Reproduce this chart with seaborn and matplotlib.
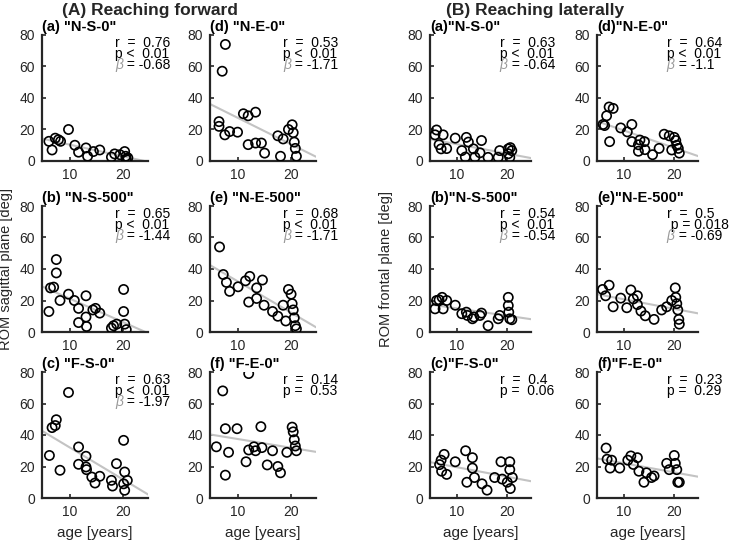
import numpy as np
import pandas as pd
import matplotlib
matplotlib.use('Agg')
import matplotlib.pyplot as plt
import seaborn as sns

# ---- data: age [years] vs ROM [deg] ----
# (A) reaching forward, sagittal plane
age_fwd_a = [6.0, 6.6, 7.2, 7.8, 8.2, 9.7, 10.9, 11.6, 13.0, 13.3, 14.4, 15.6, 17.8, 18.4, 19.4, 20.3, 20.5, 20.6, 20.9]
rom_fwd_a = [12.5, 7, 14.5, 13.5, 12.5, 20, 10, 5.6, 8.3, 3, 6, 7, 2.5, 4.5, 4, 6, 3, 1, 2]
age_fwd_b = [6.0, 6.3, 6.9, 7.4, 7.4, 8.1, 9.7, 10.8, 11.6, 11.6, 13.0, 13.0, 13.1, 14.3, 14.8, 15.6, 17.8, 18.2, 18.8, 20.1, 20.1, 20.3, 20.6]
rom_fwd_b = [13, 28, 28.5, 46, 37.5, 20, 24, 20, 15, 6, 23, 9.5, 3.5, 14, 15, 12, 2.5, 4, 5, 27, 13, 5, 1.5]
age_fwd_c = [6.1, 6.6, 7.2, 7.4, 8.1, 9.7, 11.6, 11.6, 13.0, 13.0, 13.1, 14.1, 14.7, 15.6, 17.8, 18.0, 18.75, 20.1, 20.3, 20.1, 20.3, 20.8]
rom_fwd_c = [27, 44.7, 46, 49.7, 17.6, 67, 32.4, 21.4, 26.5, 19.7, 18, 13.3, 9.5, 13.8, 11.2, 7.6, 21.8, 36.6, 16.5, 9, 4.9, 11.2]
age_fwd_d = [6.4, 6.4, 7.0, 7.6, 7.5, 8.4, 9.9, 11.0, 11.9, 13.3, 11.9, 13.3, 14.4, 15.0, 17.5, 18.0, 18.5, 19.5, 20.2, 20.4, 20.6, 20.8, 21.0]
rom_fwd_d = [25, 22, 57, 74, 16.6, 18.7, 18.3, 30, 28.7, 31, 10.4, 11.4, 11.4, 5, 16, 3, 14, 20, 23, 18, 12, 8, 3]
age_fwd_e = [6.5, 7.2, 7.8, 8.4, 10.0, 11.4, 12.2, 13.5, 14.6, 12.0, 13.5, 14.9, 16.5, 17.5, 18.5, 19.0, 19.5, 20.0, 20.2, 20.4, 20.6, 20.8, 21.0]
rom_fwd_e = [54, 36.5, 31.5, 25.8, 28.7, 32.5, 35.3, 28, 33, 19, 21.3, 17, 13, 10, 17, 7, 27, 24, 18, 14, 9, 4, 2]
age_fwd_f = [5.9, 7.1, 7.6, 7.6, 8.2, 9.8, 11.5, 12.0, 12.0, 13.0, 13.3, 14.3, 14.5, 15.5, 16.5, 17.5, 18.0, 19.2, 20.2, 20.4, 20.6, 20.8, 21.0]
rom_fwd_f = [32.5, 68, 44, 14.5, 29, 44, 23, 79, 30.5, 32.5, 30, 45.3, 32, 21, 30, 20, 16, 29, 45, 42, 37, 33, 30]

# (B) reaching laterally, frontal plane
age_lat_a = [5.7, 6.0, 6.5, 6.9, 7.3, 8.0, 9.7, 11.0, 11.7, 11.9, 12.3, 13.3, 13.6, 14.6, 14.9, 16.2, 18.2, 18.5, 20.2, 20.2, 20.5, 20.9, 20.6]
rom_lat_a = [16.6, 19.7, 10.4, 7.7, 16.6, 7.9, 14.5, 6.6, 2.5, 15, 12, 7.7, 2.5, 5.2, 13, 2.3, 2.3, 6.6, 7.7, 4.6, 2.3, 6.6, 8.5]
age_lat_b = [5.7, 6.0, 6.5, 7.1, 7.3, 8.0, 9.7, 11.0, 11.9, 12.1, 13.1, 13.4, 14.6, 14.9, 16.2, 18.2, 18.5, 20.2, 20.2, 20.3, 20.5, 20.9]
rom_lat_b = [14.7, 20, 20.4, 22, 14.7, 20, 17, 11.6, 12.6, 10.5, 8.4, 9.5, 10.5, 12, 4, 8.4, 10.5, 16.8, 22, 12.6, 8.4, 7.8]
age_lat_c = [6.6, 6.9, 7.5, 7.0, 8.0, 9.7, 11.75, 12.0, 13.1, 13.1, 13.5, 15.0, 16.0, 17.5, 18.75, 19.0, 20.0, 20.5, 20.5, 20.6, 21.0]
rom_lat_c = [21.2, 24, 27.7, 17, 15, 23, 30, 10, 25.6, 19, 13, 9, 5, 13, 23, 12, 10, 23, 18, 6, 13]
age_lat_d = [5.9, 6.2, 6.6, 7.1, 7.9, 7.2, 9.4, 10.7, 11.6, 11.6, 12.9, 13.2, 12.9, 14.1, 14.2, 15.7, 17.0, 18.0, 19.0, 19.5, 20.0, 20.3, 20.5, 20.8, 21.0]
rom_lat_d = [23.2, 22.5, 28.7, 34.3, 33.4, 12.3, 21, 18.5, 23.2, 12.3, 10.3, 13.3, 6.2, 12.3, 7.2, 4, 8, 17, 16, 7, 15, 13, 10, 8, 5]
age_lat_e = [5.8, 6.4, 7.1, 7.9, 9.4, 10.6, 11.4, 11.9, 12.7, 12.7, 13.4, 14.25, 16.0, 17.5, 18.5, 19.5, 20.2, 20.3, 20.5, 20.7, 20.9, 21.0]
rom_lat_e = [27, 23, 29.7, 16, 21.5, 15.4, 26.7, 21, 23, 17.4, 13.3, 10.3, 8, 14, 16, 20, 28, 22, 18, 14, 8, 5]
age_lat_f = [6.5, 6.7, 7.6, 7.3, 9.2, 10.8, 11.4, 12.7, 11.9, 13.0, 14.0, 14.5, 15.5, 16.0, 18.5, 19.0, 20.0, 20.2, 20.5, 20.7, 21.0]
rom_lat_f = [31.7, 24.6, 24, 19, 19, 24, 26.7, 25.6, 21.3, 17, 10, 16, 13, 14, 22, 18, 27, 22, 18, 10, 10]

# panel labels and statistics (r, p, beta)
titles_fwd = ['(a) "N-S-0"', '(b) "N-S-500"', '(c) "F-S-0"', '(d) "N-E-0"', '(e) "N-E-500"', '(f) "F-E-0"']
titles_lat = ['(a)"N-S-0"', '(b)"N-S-500"', '(c)"F-S-0"', '(d)"N-E-0"', '(e)"N-E-500"', '(f)"F-E-0"']
r_fwd = ['0.76', '0.65', '0.63', '0.53', '0.68', '0.14']
p_fwd = ['p <  0.01', 'p <  0.01', 'p <  0.01', 'p <  0.01', 'p <  0.01', 'p =  0.53']
beta_fwd = ['-0.68', '-1.44', '-1.97', '-1.71', '-1.71', None]
r_lat = ['0.63', '0.54', '0.4', '0.64', '0.5', '0.23']
p_lat = ['p <  0.01', 'p <  0.01', 'p =  0.06', 'p <  0.01', ' p = 0.018', 'p =  0.29']
beta_lat = ['-0.64', '-0.54', None, '-1.1', '-0.69', None]

ages = [age_fwd_a, age_fwd_b, age_fwd_c, age_fwd_d, age_fwd_e, age_fwd_f,
        age_lat_a, age_lat_b, age_lat_c, age_lat_d, age_lat_e, age_lat_f]
roms = [rom_fwd_a, rom_fwd_b, rom_fwd_c, rom_fwd_d, rom_fwd_e, rom_fwd_f,
        rom_lat_a, rom_lat_b, rom_lat_c, rom_lat_d, rom_lat_e, rom_lat_f]
titles = titles_fwd + titles_lat
r_all = r_fwd + r_lat
p_all = p_fwd + p_lat
beta_all = beta_fwd + beta_lat

sns.set_theme(style='ticks')
plt.rcParams['font.family'] = ['Liberation Sans', 'DejaVu Sans']
txt_col = '#262626'

W, H = 736, 544
fig = plt.figure(figsize=(W / 100, H / 100), dpi=100)
rows_px = [(35, 161), (206, 332), (372, 498)]
cols_px = [(42, 148), (210, 316), (430, 531), (597, 698)]

axes = []
for i in range(12):
    col = i // 3
    row = i % 3
    x0, x1 = cols_px[col]
    y0, y1 = rows_px[row]
    ax = fig.add_axes([x0 / W, 1 - y1 / H, (x1 - x0) / W, (y1 - y0) / H])
    axes.append(ax)
    ax.set_xlim(4.7, 24.7)
    ax.set_ylim(0, 80)
    sns.regplot(x=ages[i], y=roms[i], ax=ax, ci=None, truncate=False,
                scatter_kws=dict(s=44, facecolors='none', edgecolors='black', linewidths=1.2, alpha=1, zorder=3),
                line_kws=dict(color='#c3c3c3', lw=1.5, zorder=2))
    ax.set_xlim(4.7, 24.7)
    ax.set_ylim(0, 80)
    ax.set_xticks([10, 20])
    ax.set_yticks([0, 20, 40, 60, 80])
    ax.tick_params(direction='in', length=3, width=1.2, labelsize=10, pad=5, colors=txt_col)
    for s in ['top', 'right']:
        ax.spines[s].set_visible(False)
    for s in ['left', 'bottom']:
        ax.spines[s].set_linewidth(1.6)
        ax.spines[s].set_color(txt_col)
    ax.set_title(titles[i], loc='left', fontsize=10.5, fontweight='bold', pad=3, color='black')

    # statistics text
    tx = 0.69
    ax.text(tx, 0.905, 'r  =  ' + r_all[i], transform=ax.transAxes, va='baseline', fontsize=10, color='black')
    ax.text(tx, 0.817, p_all[i], transform=ax.transAxes, va='baseline', fontsize=10, color='black')
    if beta_all[i] is not None:
        bt = ax.text(tx, 0.730, 'β', transform=ax.transAxes, va='baseline', fontsize=10,
                     style='italic', color='#9a9a9a')
        ax.annotate(' = ' + beta_all[i], xy=(1, 0), xycoords=bt, va='bottom', ha='left',
                    fontsize=10, color='black')

# axis labels
axes[1].set_ylabel('ROM sagittal plane [deg]', fontsize=10.5, color=txt_col)
axes[1].yaxis.set_label_coords(-0.27, 0.5)
axes[7].set_ylabel('ROM frontal plane [deg]', fontsize=10.5, color=txt_col)
axes[7].yaxis.set_label_coords(-0.37, 0.5)
for k in [2, 5, 8, 11]:
    axes[k].set_xlabel('age [years]', fontsize=11, color=txt_col)
    axes[k].xaxis.set_label_coords(0.5, -0.22)

fig.text(150 / W, 1 - 10 / H, '(A) Reaching forward', ha='center', va='center', fontsize=12.5, fontweight='bold')
fig.text(535 / W, 1 - 10 / H, '(B) Reaching laterally', ha='center', va='center', fontsize=12.5, fontweight='bold')

fig.savefig('out.png', dpi=100)
